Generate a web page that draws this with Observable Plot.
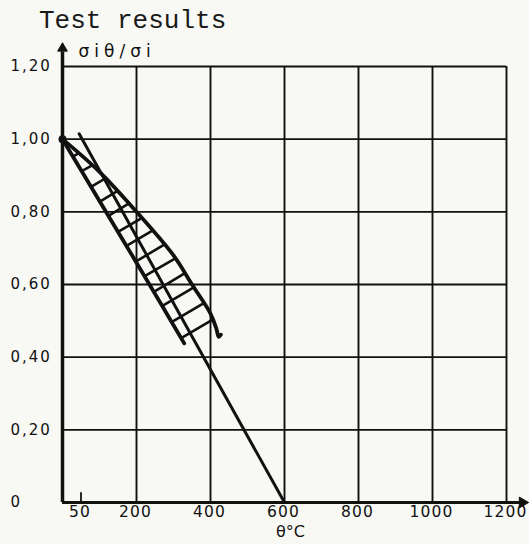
<!DOCTYPE html>
<html><head><meta charset="utf-8">
<script src="https://cdn.jsdelivr.net/npm/d3@7"></script>
<script src="https://cdn.jsdelivr.net/npm/@observablehq/plot@0.6"></script>
<style>
body{margin:0;background:#f8f8f4;}
#title{height:34px;box-sizing:border-box;padding:8px 0 0 39px;font:26px/26px "Liberation Mono","DejaVu Sans Mono",monospace;color:#1a1a1a;white-space:pre;}
#chart svg{display:block;}
g[aria-label="x-axis tick label"] text{letter-spacing:1.2px;}
.ytl text{letter-spacing:2px;}
.ylab text{letter-spacing:5px;}
</style></head><body>
<div id="title"></div>
<div id="chart"></div>
<script>
const titleText = "Test results";
const yLabel = "σiθ/σi";
const xLabel = "θ°C";
const xTicks = [50, 200, 400, 600, 800, 1000, 1200];
const xTickLabels = ["50", "200", "400", "600", "800", "1000", "1200"];
const xGrid = [200, 400, 600, 800, 1000, 1200];
const yTicks = [0, 0.2, 0.4, 0.6, 0.8, 1.0, 1.2];
const yTickLabels = ["0", "0,20", "0,40", "0,60", "0,80", "1,00", "1,20"];
const yGrid = [0.2, 0.4, 0.6, 0.8, 1.0, 1.2];

// upper boundary of the test-result band (with small end hook)
const upperT = [0, 100, 200, 300, 350, 400, 416, 422, 428];
const upperV = [1.0, 0.91, 0.80, 0.68, 0.60, 0.52, 0.478, 0.456, 0.462];
// lower boundary of the band
const lowerT = [0, 100, 200, 270, 329];
const lowerV = [1.0, 0.83, 0.66, 0.54, 0.438];
// straight reference line
const lineT = [45, 600];
const lineV = [1.015, 0];
// hatching rungs across the band (lower end -> upper end)
const hatchT1 = [28, 52, 77, 101, 124, 150, 173, 198, 222, 247, 270, 296, 322];
const hatchV1 = [0.952, 0.912, 0.869, 0.828, 0.789, 0.745, 0.706, 0.663, 0.623, 0.580, 0.541, 0.497, 0.453];
const hatchT2 = [43, 80, 116, 148, 180, 214, 243, 275, 305, 331, 355, 382, 407];
const hatchV2 = [0.961, 0.928, 0.892, 0.857, 0.823, 0.783, 0.748, 0.710, 0.672, 0.631, 0.592, 0.549, 0.504];
// band origin point
const originT = [0];
const originV = [1.0];
// axis arrow extents
const xAxisEnd = 1240, xArrow = 1243;
const yAxisEnd = 1.24, yArrow = 1.25;
const tick50 = 50, tick50Len = 0.027;

document.getElementById("title").textContent = titleText;

const ink = "#111";
const idx = a => a.map((_, i) => i);

const chart = Plot.plot({
  width: 529,
  height: 510,
  marginLeft: 62,
  marginRight: 23,
  marginTop: 32,
  marginBottom: 42,
  style: {fontFamily: "DejaVu Sans", background: "transparent", color: ink},
  x: {domain: [0, 1200], axis: null},
  y: {domain: [0, 1.2], axis: null},
  marks: [
    Plot.ruleX(xGrid, {y1: 0, y2: 1.2, stroke: ink, strokeWidth: 1.9}),
    Plot.ruleY(yGrid, {x1: 0, x2: 1200, stroke: ink, strokeWidth: 1.9}),
    Plot.ruleY([0], {x1: 0, x2: xAxisEnd, stroke: ink, strokeWidth: 3}),
    Plot.ruleX([0], {y1: 0, y2: yAxisEnd, stroke: ink, strokeWidth: 3.5}),
    Plot.ruleX([tick50], {y1: 0, y2: tick50Len, stroke: ink, strokeWidth: 1.8}),
    Plot.dot([0], {x: 0, y: yArrow, symbol: "triangle", r: 3.6, fill: ink, stroke: ink, strokeWidth: 1}),
    Plot.dot([0], {x: xArrow, y: 0, symbol: "triangle", r: 4, rotate: 90, fill: ink, stroke: ink, strokeWidth: 1}),
    Plot.axisX(xTicks, {tickSize: 0, tickPadding: 3, fontSize: 15.5, dx: -1, label: null,
      tickFormat: d => xTickLabels[xTicks.indexOf(d)]}),
    Plot.text(idx(yTicks), {y: i => yTicks[i], text: i => yTickLabels[i], frameAnchor: "left", textAnchor: "start",
      dx: -52, fontSize: 15, fill: ink, className: "ytl"}),
    Plot.text([xLabel], {frameAnchor: "bottom", lineAnchor: "middle", dx: 6, dy: 29, fontSize: 16, text: d => d, fill: ink}),
    Plot.text([yLabel], {frameAnchor: "top-left", lineAnchor: "middle", dx: 16, dy: -15, textAnchor: "start", fontSize: 17, text: d => d, fill: ink, className: "ylab"}),
    Plot.link(idx(hatchT1), {x1: i => hatchT1[i], y1: i => hatchV1[i], x2: i => hatchT2[i], y2: i => hatchV2[i], stroke: ink, strokeWidth: 2.6, strokeLinecap: "round"}),
    Plot.line(idx(lineT), {x: i => lineT[i], y: i => lineV[i], stroke: ink, strokeWidth: 3}),
    Plot.line(idx(lowerT), {x: i => lowerT[i], y: i => lowerV[i], stroke: ink, strokeWidth: 3.8, curve: "catmull-rom", strokeLinecap: "round"}),
    Plot.line(idx(upperT), {x: i => upperT[i], y: i => upperV[i], stroke: ink, strokeWidth: 3.8, curve: "catmull-rom", strokeLinecap: "round"}),
    Plot.dot(idx(originT), {x: i => originT[i], y: i => originV[i], r: 4, fill: ink})
  ]
});
document.getElementById("chart").appendChild(chart);
</script>
</body></html>
